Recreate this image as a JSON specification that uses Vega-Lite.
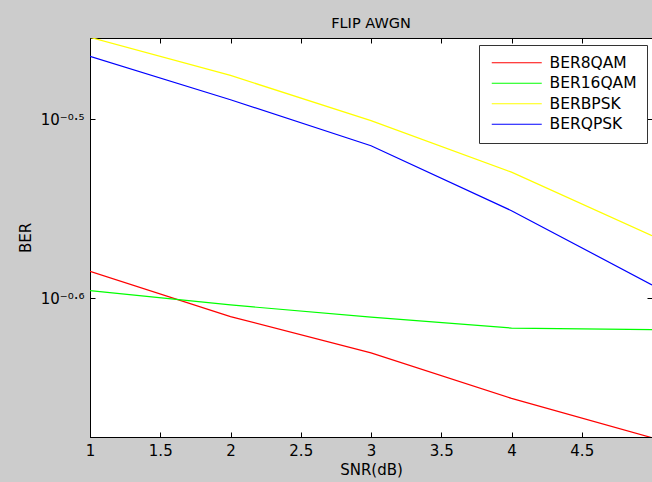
{
  "$schema": "https://vega.github.io/schema/vega-lite/v6.json",
  "autosize": {"type": "none"},
  "width": 562,
  "height": 399,
  "padding": {"left": 90, "top": 38, "right": 0, "bottom": 45},
  "background": "#cccccc",
  "title": {"text": "FLIP AWGN", "font": "DejaVu Sans", "fontSize": 14.5, "fontWeight": "normal", "color": "#000000", "offset": -5, "baseline": "alphabetic"},
  "config": {
    "view": {"fill": "#ffffff", "stroke": "#000000", "strokeWidth": 1},
    "font": "DejaVu Sans"
  },
  "data": {
    "values": [
      {"snr": 1, "ber": 0.2601, "series": "BER8QAM"},
      {"snr": 2, "ber": 0.2454, "series": "BER8QAM"},
      {"snr": 3, "ber": 0.2342, "series": "BER8QAM"},
      {"snr": 4, "ber": 0.2209, "series": "BER8QAM"},
      {"snr": 5, "ber": 0.2100, "series": "BER8QAM"},
      {"snr": 1, "ber": 0.2537, "series": "BER16QAM"},
      {"snr": 2, "ber": 0.2491, "series": "BER16QAM"},
      {"snr": 3, "ber": 0.2452, "series": "BER16QAM"},
      {"snr": 4, "ber": 0.2418, "series": "BER16QAM"},
      {"snr": 5, "ber": 0.2413, "series": "BER16QAM"},
      {"snr": 1, "ber": 0.3514, "series": "BERBPSK"},
      {"snr": 2, "ber": 0.3346, "series": "BERBPSK"},
      {"snr": 3, "ber": 0.3157, "series": "BERBPSK"},
      {"snr": 4, "ber": 0.2955, "series": "BERBPSK"},
      {"snr": 5, "ber": 0.2723, "series": "BERBPSK"},
      {"snr": 1, "ber": 0.3429, "series": "BERQPSK"},
      {"snr": 2, "ber": 0.3243, "series": "BERQPSK"},
      {"snr": 3, "ber": 0.3057, "series": "BERQPSK"},
      {"snr": 4, "ber": 0.2812, "series": "BERQPSK"},
      {"snr": 5, "ber": 0.2556, "series": "BERQPSK"}
    ]
  },
  "layer": [
    {
      "mark": {"type": "line", "strokeWidth": 1.2, "clip": true},
      "encoding": {
        "x": {"field": "snr", "type": "quantitative", "scale": {"domain": [1, 5], "nice": false, "zero": false},
          "axis": {"orient": "bottom", "title": "SNR(dB)", "values": [1, 1.5, 2, 2.5, 3, 3.5, 4, 4.5], "format": "~g", "grid": false, "labelFlush": false,
            "tickSize": -5, "tickColor": "#000000", "domainColor": "#000000", "labelFontSize": 15, "labelColor": "#000000", "labelPadding": 11,
            "titleFontSize": 15, "titleFontWeight": "normal", "titleColor": "#000000", "titlePadding": 4}},
        "y": {"field": "ber", "type": "quantitative", "scale": {"type": "log", "domain": [0.2102, 0.3511], "nice": false, "zero": false},
          "axis": {"orient": "left", "title": "BER", "values": [0.251189, 0.316228], "labelExpr": "datum.value > 0.3 ? '10⁻⁰·⁵' : '10⁻⁰·⁶'", "grid": false, "labelFlush": false,
            "tickSize": -5, "tickColor": "#000000", "domainColor": "#000000", "labelFontSize": 15, "labelColor": "#000000", "labelPadding": 11,
            "titleFontSize": 15, "titleFontWeight": "normal", "titleColor": "#000000", "titlePadding": 7}},
        "color": {"field": "series", "type": "nominal",
          "scale": {"domain": ["BER8QAM", "BER16QAM", "BERBPSK", "BERQPSK"], "range": ["#ff0000", "#00ff00", "#ffff00", "#0000ff"]},
          "legend": {"orient": "none", "legendX": 389, "legendY": 7, "title": null, "symbolType": "M-5,0H5", "symbolSize": 100, "symbolStrokeWidth": 1.2, "symbolOffset": 20,
            "labelFontSize": 15.5, "labelColor": "#000000", "labelOffset": 25, "fillColor": "#ffffff", "strokeColor": "#333333", "padding": 10, "rowPadding": 3.5}}
      }
    },
    {
      "mark": {"type": "line", "opacity": 0},
      "encoding": {
        "x": {"field": "snr", "type": "quantitative", "scale": {"domain": [1, 5], "nice": false, "zero": false},
          "axis": {"orient": "top", "title": null, "labels": false, "values": [1, 1.5, 2, 2.5, 3, 3.5, 4, 4.5], "grid": false, "tickSize": -5, "tickColor": "#000000", "domainColor": "#000000"}},
        "y": {"field": "ber", "type": "quantitative", "scale": {"type": "log", "domain": [0.2102, 0.3511], "nice": false, "zero": false},
          "axis": {"orient": "right", "title": null, "labels": false, "values": [0.251189, 0.316228], "grid": false, "tickSize": -5, "tickColor": "#000000", "domainColor": "#000000"}},
        "detail": {"field": "series", "type": "nominal"}
      }
    }
  ],
  "resolve": {"axis": {"x": "independent", "y": "independent"}}
}
